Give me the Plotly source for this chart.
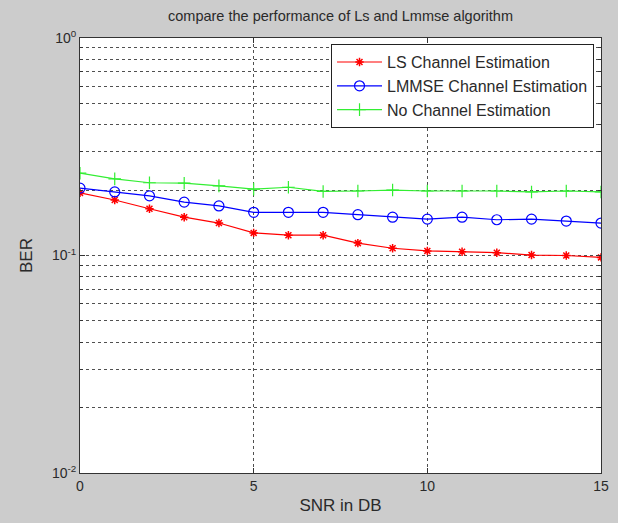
import plotly.graph_objects as go

snr = list(range(16))
ber_ls = [0.194, 0.180, 0.164, 0.150, 0.141, 0.127, 0.124, 0.124, 0.114, 0.108,
          0.105, 0.104, 0.103, 0.1005, 0.100, 0.098]
ber_lmmse = [0.204, 0.196, 0.188, 0.176, 0.169, 0.158, 0.158, 0.158, 0.154, 0.150,
             0.147, 0.150, 0.146, 0.147, 0.144, 0.141]
ber_none = [0.239, 0.225, 0.216, 0.215, 0.209, 0.202, 0.206, 0.197, 0.198, 0.200,
            0.198, 0.198, 0.198, 0.196, 0.198, 0.196]

y_major = [0.01, 0.1, 1]
y_major_text = ["10<sup>-2</sup>", "10<sup>-1</sup>", "10<sup>0</sup>"]
y_minor = [k * 0.01 for k in range(2, 10)] + [k * 0.1 for k in range(2, 10)]
x_ticks = [0, 5, 10, 15]

font_family = "Liberation Sans, Arial, sans-serif"
grid_col = "#505050"
txt_col = "#2a2a2a"

fig = go.Figure()
fig.add_trace(go.Scatter(x=snr, y=ber_ls, mode="lines+markers", name="LS Channel Estimation",
                         line=dict(color="#ff0000", width=1.2),
                         marker=dict(symbol="asterisk-open", size=7, color="#ff0000",
                                     line=dict(color="#ff0000", width=1.5))))
fig.add_trace(go.Scatter(x=snr, y=ber_lmmse, mode="lines+markers", name="LMMSE Channel Estimation",
                         line=dict(color="#0000ff", width=1.2),
                         marker=dict(symbol="circle-open", size=10, color="#0000ff",
                                     line=dict(color="#0000ff", width=1.2))))
fig.add_trace(go.Scatter(x=snr, y=ber_none, mode="lines+markers", name="No Channel Estimation",
                         line=dict(color="#33ee33", width=1.2),
                         marker=dict(symbol="cross-thin-open", size=9, color="#33ee33",
                                     line=dict(color="#33ee33", width=1.2))))

fig.update_layout(
    width=618, height=523,
    paper_bgcolor="#cccccc", plot_bgcolor="#ffffff",
    margin=dict(l=80, r=17, t=38, b=50, autoexpand=False),
    font=dict(family=font_family, size=14, color=txt_col),
    title=dict(text="compare the performance of Ls and Lmmse algorithm",
               x=(80 + 601) / 2 / 618, xanchor="center", y=1 - 16 / 523, yanchor="middle",
               font=dict(size=14.5, color=txt_col)),
    showlegend=True,
    legend=dict(x=0.9866, y=0.986, xanchor="right", yanchor="top",
                bgcolor="#ffffff", bordercolor="#222222", borderwidth=1,
                font=dict(size=16, color=txt_col), itemwidth=45,
                tracegroupgap=0),
)
fig.update_xaxes(range=[0, 15], tickvals=x_ticks, showgrid=True, gridcolor=grid_col,
                 griddash="dot", gridwidth=1, zeroline=False, automargin=False,
                 showline=True, linecolor="#333333", linewidth=1, mirror="ticks",
                 ticks="inside", ticklen=5, tickcolor="#333333",
                 title=dict(text="SNR in DB", standoff=6), tickfont=dict(size=14))
fig.update_yaxes(type="log", range=[-2, 0], tickvals=y_major, ticktext=y_major_text,
                 showgrid=True, gridcolor=grid_col, griddash="dot", gridwidth=1,
                 automargin=False,
                 showline=True, linecolor="#333333", linewidth=1, mirror="ticks",
                 ticks="inside", ticklen=5, tickcolor="#333333",
                 minor=dict(tickvals=y_minor, showgrid=True, gridcolor=grid_col,
                            griddash="dot", gridwidth=1, ticks="inside", ticklen=3,
                            tickcolor="#333333"),
                 title=dict(text="BER", standoff=14), tickfont=dict(size=14))

fig.write_html("out.html",
               config={"displayModeBar": False},
               post_script="document.body.style.margin='0';"
                           "document.body.style.background='#cccccc';")
